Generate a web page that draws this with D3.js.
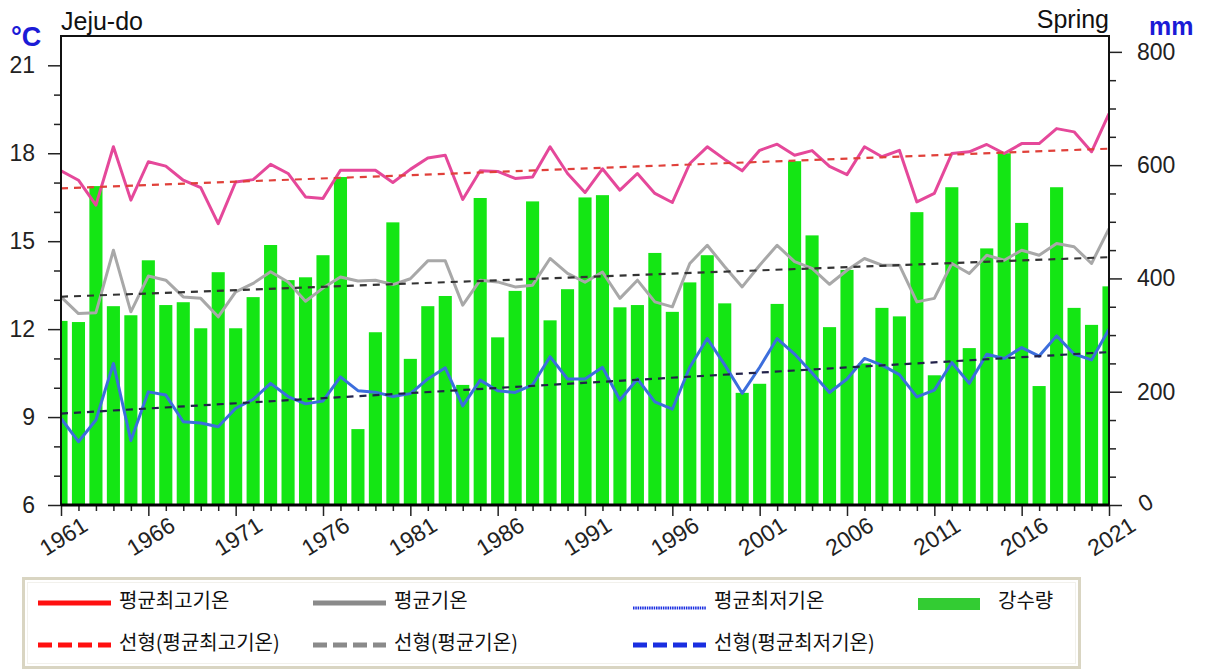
<!DOCTYPE html>
<html>
<head>
<meta charset="utf-8">
<script src="https://cdn.jsdelivr.net/npm/d3@7"></script>
<style>
  body { margin: 0; background: #fff; }
  svg { display: block; font-family: "Liberation Sans", Arial, Helvetica, sans-serif; }
</style>
</head>
<body>
<svg id="chart" width="1210" height="669"></svg>
<script>
// spring climate series, Jeju-do, 1961-2021
const years = d3.range(1961, 2022);

// precipitation (mm)
const precip = [325, 323, 563, 351, 335, 432, 353, 358, 312, 411,
                312, 367, 459, 397, 402, 441, 579, 134, 305, 499,
                258, 351, 369, 212, 542, 296, 378, 536, 326, 381,
                543, 547, 349, 353, 445, 341, 393, 441, 356, 198,
                214, 355, 607, 476, 314, 415, 250, 348, 333, 517,
                229, 561, 277, 453, 621, 498, 210, 561, 348, 318,
                386];

// mean max temperature (°C)
const tMax = [17.40, 17.08, 16.23, 18.22, 16.40, 17.71, 17.56, 17.08, 16.83, 15.60,
              17.02, 17.10, 17.62, 17.31, 16.51, 16.46, 17.42, 17.42, 17.42, 17.00,
              17.45, 17.84, 17.93, 16.42, 17.40, 17.38, 17.14, 17.19, 18.22, 17.31,
              16.66, 17.47, 16.74, 17.31, 16.63, 16.32, 17.65, 18.22, 17.79, 17.40,
              18.10, 18.31, 17.93, 18.09, 17.55, 17.27, 18.22, 17.88, 18.10, 16.34,
              16.63, 17.99, 18.05, 18.30, 17.99, 18.33, 18.33, 18.84, 18.73, 18.05,
              19.35];

// mean temperature (°C)
const tMean = [13.10, 12.53, 12.56, 14.69, 12.59, 13.81, 13.67, 13.10, 13.05, 12.42,
               13.27, 13.56, 13.96, 13.61, 12.95, 13.40, 13.78, 13.64, 13.67, 13.52,
               13.72, 14.33, 14.33, 12.82, 13.67, 13.61, 13.44, 13.50, 14.41, 13.90,
               13.60, 13.95, 13.05, 13.67, 12.93, 12.76, 14.24, 14.86, 14.13, 13.44,
               14.18, 14.86, 14.30, 14.07, 13.53, 14.01, 14.41, 14.18, 14.18, 12.93,
               13.05, 14.24, 13.90, 14.52, 14.35, 14.69, 14.52, 14.92, 14.81, 14.24,
               15.43];

// mean min temperature (°C)
const tMin = [8.95, 8.16, 8.90, 10.83, 8.20, 9.86, 9.75, 8.84, 8.80, 8.67,
              9.30, 9.60, 10.15, 9.70, 9.45, 9.55, 10.37, 9.90, 9.85, 9.70,
              9.80, 10.30, 10.68, 9.38, 10.26, 9.90, 9.84, 10.10, 11.06, 10.30,
              10.30, 10.70, 9.58, 10.30, 9.52, 9.27, 10.70, 11.68, 10.78, 9.81,
              10.70, 11.68, 11.15, 10.50, 9.84, 10.30, 11.00, 10.77, 10.45, 9.69,
              9.92, 10.86, 10.15, 11.14, 11.00, 11.37, 11.08, 11.77, 11.15, 10.95,
              12.00];

const tempTicks = [6, 9, 12, 15, 18, 21];
const precipTicks = [0, 200, 400, 600, 800];
const yearTicks = d3.range(1961, 2022, 5);

const legendLabels = ["평균최고기온", "평균기온", "평균최저기온", "강수량",
                      "선형(평균최고기온)", "선형(평균기온)", "선형(평균최저기온)"];

// plot box
const pLeft = 61, pRight = 1109, pTop = 36, pBottom = 505;

const x = d3.scaleLinear().domain([1961, 2021]).range([pLeft, pRight]);
const yT = d3.scaleLinear().domain([6, 22]).range([pBottom, pTop]);
const yP = d3.scaleLinear().domain([0, 828]).range([pBottom, pTop]);

const svg = d3.select("#chart");

svg.append("defs").append("clipPath").attr("id", "plotclip")
  .append("rect")
    .attr("x", pLeft).attr("y", pTop)
    .attr("width", pRight - pLeft).attr("height", pBottom - pTop);

const plot = svg.append("g").attr("clip-path", "url(#plotclip)");

// precipitation bars
const step = x(1962) - x(1961);
const bw = step * 0.75;
plot.append("g")
    .attr("fill", "#14e614")
  .selectAll("rect")
  .data(years)
  .join("rect")
    .attr("x", d => x(d) - bw / 2)
    .attr("y", (d, i) => yP(precip[i]))
    .attr("width", bw)
    .attr("height", (d, i) => yP(0) - yP(precip[i]));

// least squares trend
function trend(vals) {
  const mx = d3.mean(years), my = d3.mean(vals);
  let sxy = 0, sxx = 0;
  years.forEach((yr, i) => { sxy += (yr - mx) * (vals[i] - my); sxx += (yr - mx) * (yr - mx); });
  const b = sxy / sxx;
  return [1961, 2021].map(yr => [yr, my + b * (yr - mx)]);
}

const line = d3.line().x(d => x(d[0])).y(d => yT(d[1]));

const series = [
  { vals: tMax,  color: "#e5489a", trendColor: "#e0403a" },
  { vals: tMean, color: "#a8a8a8", trendColor: "#333333" },
  { vals: tMin,  color: "#3c6edc", trendColor: "#22224a" }
];

series.forEach(s => {
  plot.append("path")
      .datum(years.map((yr, i) => [yr, s.vals[i]]))
      .attr("fill", "none")
      .attr("stroke", s.color)
      .attr("stroke-width", 3)
      .attr("stroke-linejoin", "round")
      .attr("d", line);
});

series.forEach(s => {
  plot.append("path")
      .datum(trend(s.vals))
      .attr("fill", "none")
      .attr("stroke", s.trendColor)
      .attr("stroke-width", 2.2)
      .attr("stroke-dasharray", "7,6")
      .attr("d", line);
});

// axes
const tickFont = "23px";

const gl = svg.append("g").attr("transform", `translate(${pLeft},0)`)
    .call(d3.axisLeft(yT).tickValues(d3.range(7, 22).filter(v => v % 3 !== 0)).tickSize(7).tickFormat(""));
const gL = svg.append("g").attr("transform", `translate(${pLeft},0)`)
    .call(d3.axisLeft(yT).tickValues(tempTicks).tickSize(13).tickPadding(13));

const gr = svg.append("g").attr("transform", `translate(${pRight},0)`)
    .call(d3.axisRight(yP).tickValues(d3.range(50, 800, 50).filter(v => v % 200 !== 0)).tickSize(7).tickFormat(""));
const gR = svg.append("g").attr("transform", `translate(${pRight},0)`)
    .call(d3.axisRight(yP).tickValues(precipTicks).tickSize(13).tickPadding(15));

const gb = svg.append("g").attr("transform", `translate(0,${pBottom})`)
    .call(d3.axisBottom(x).tickValues(years.filter(v => (v - 1961) % 5 !== 0)).tickSize(6).tickFormat(""));
const gB = svg.append("g").attr("transform", `translate(0,${pBottom})`)
    .call(d3.axisBottom(x).tickValues(yearTicks).tickSize(11).tickFormat(d3.format("d")));

[gl, gL, gr, gR, gb, gB].forEach(g => {
  g.select(".domain").remove();
  g.selectAll(".tick line").attr("stroke", "#222").attr("stroke-width", 1.5);
  g.selectAll("text").attr("font-size", tickFont).attr("fill", "#222")
    .attr("font-family", "'Liberation Sans', Arial, sans-serif");
});

// year labels slanted
gB.selectAll(".tick text")
    .attr("text-anchor", "middle")
    .attr("dy", null)
    .attr("y", 0)
    .attr("transform", "translate(3,33) rotate(-32)")
    .attr("dominant-baseline", "middle");

// the 0 on the right axis is slanted too
gR.selectAll(".tick").filter(d => d === 0).select("text")
    .attr("x", 0).attr("dy", null).attr("dominant-baseline", "middle")
    .attr("transform", "translate(32,2) rotate(-30)");

// frame
svg.append("rect")
    .attr("x", pLeft).attr("y", pTop)
    .attr("width", pRight - pLeft).attr("height", pBottom - pTop)
    .attr("fill", "none").attr("stroke", "#111").attr("stroke-width", 2);
svg.append("line")
    .attr("x1", pLeft).attr("x2", pRight).attr("y1", pBottom).attr("y2", pBottom)
    .attr("stroke", "#000").attr("stroke-width", 3);

// titles
svg.append("text").attr("x", 61).attr("y", 30).attr("font-size", "25px").attr("fill", "#111").text("Jeju-do");
svg.append("text").attr("x", 1109).attr("y", 28).attr("font-size", "25px").attr("fill", "#111")
    .attr("text-anchor", "end").text("Spring");
svg.append("text").attr("x", 11).attr("y", 46).attr("font-size", "27px").attr("font-weight", "bold")
    .attr("fill", "#1b1bd6").text("°C");
svg.append("text").attr("x", 1149).attr("y", 35).attr("font-size", "25px").attr("font-weight", "bold")
    .attr("fill", "#1b1bd6").text("mm");

// legend
const lg = svg.append("g");
lg.append("rect")
    .attr("x", 23.5).attr("y", 578.5).attr("width", 1056).attr("height", 89)
    .attr("fill", "#fff").attr("stroke", "#d9d5c2").attr("stroke-width", 3);
lg.append("rect")
    .attr("x", 27.5).attr("y", 582.5).attr("width", 1048).attr("height", 81)
    .attr("fill", "none").attr("stroke", "#e4e2d8").attr("stroke-width", 1)
    .attr("stroke-dasharray", "1,1");

const legendItems = [
  { label: legendLabels[0], col: 38,  row: 603, color: "#ff1010", dash: null, w: 5 },
  { label: legendLabels[1], col: 313, row: 603, color: "#8a8a8a", dash: null, w: 5 },
  { label: legendLabels[2], col: 633, row: 608, color: "#1a2ee0", dash: "1.5,0.8", w: 3 },
  { label: legendLabels[3], col: 918, row: 604, color: "#33cc33", dash: null, w: 12, bar: true },
  { label: legendLabels[4], col: 38,  row: 645, color: "#ff1010", dash: "14,6", w: 5 },
  { label: legendLabels[5], col: 313, row: 645, color: "#8a8a8a", dash: "14,6", w: 5 },
  { label: legendLabels[6], col: 633, row: 645, color: "#1a2ee0", dash: "14,6", w: 5 }
];

legendItems.forEach(it => {
  const len = it.bar ? 62 : 73;
  lg.append("line")
      .attr("x1", it.col).attr("x2", it.col + len)
      .attr("y1", it.row).attr("y2", it.row)
      .attr("stroke", it.color).attr("stroke-width", it.w)
      .attr("stroke-dasharray", it.dash);
  lg.append("text")
      .attr("x", it.col + len + (it.bar ? 18 : 8)).attr("y", it.row < 620 ? 603 : it.row)
      .attr("dominant-baseline", "middle")
      .attr("font-family", "'Noto Sans CJK KR', sans-serif")
      .attr("font-size", "20px").attr("fill", "#111")
      .text(it.label);
});
</script>
</body>
</html>
